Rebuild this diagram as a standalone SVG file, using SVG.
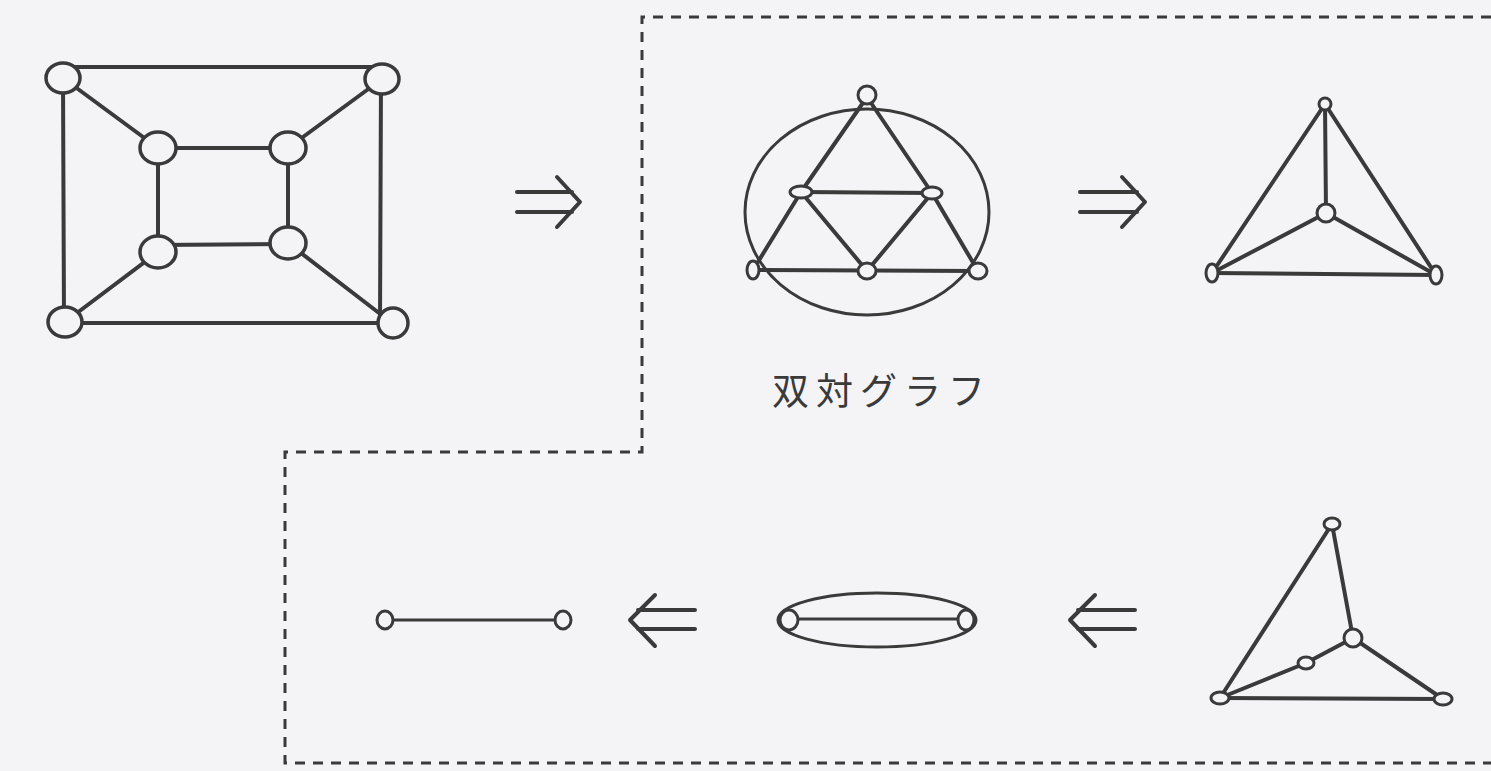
<svg xmlns="http://www.w3.org/2000/svg" width="1491" height="771" viewBox="0 0 1491 771">
<style>
.e{stroke:#3a3a3a;stroke-width:4;fill:none;stroke-linecap:round}
.t{stroke:#3a3a3a;stroke-width:3;fill:none;stroke-linecap:round}
.n{stroke:#3a3a3a;stroke-width:3.5;fill:#f4f3f5}
.s{stroke:#3a3a3a;stroke-width:3;fill:#f4f3f5}
.d{stroke:#3a3a3a;stroke-width:3;fill:none;stroke-dasharray:10 8}
.a{stroke:#3a3a3a;stroke-width:4;fill:none;stroke-linecap:round;stroke-linejoin:round}
.lbl{font-family:"Noto Sans CJK JP","Noto Sans CJK SC",sans-serif;font-size:37px;fill:#3a3a3a;letter-spacing:7px}
</style>
<rect width="1491" height="771" fill="#f4f3f5"/>
<g id="connectors">
<path class="d" d="M1491 17 H642 V452 H285 V763 H1491"/>
<!-- graph 1 -->
<line class="e" x1="63" y1="67" x2="382" y2="67"/>
<line class="e" x1="63" y1="78" x2="64" y2="322"/>
<line class="e" x1="381" y1="79" x2="380" y2="323"/>
<line class="e" x1="65" y1="323" x2="392" y2="323"/>
<line class="e" x1="63" y1="78" x2="158" y2="148"/>
<line class="e" x1="382" y1="79" x2="288" y2="148"/>
<line class="e" x1="65" y1="322" x2="158" y2="252"/>
<line class="e" x1="392" y1="323" x2="288" y2="243"/>
<line class="e" x1="158" y1="148" x2="288" y2="148"/>
<line class="e" x1="158" y1="245" x2="288" y2="244"/>
<line class="e" x1="158" y1="148" x2="158" y2="252"/>
<line class="e" x1="288" y1="148" x2="288" y2="243"/>
<!-- graph 2 -->
<ellipse class="t" cx="867" cy="212" rx="122" ry="103"/>
<line class="e" x1="867" y1="97" x2="801" y2="192"/>
<line class="e" x1="867" y1="97" x2="932" y2="193"/>
<line class="e" x1="801" y1="192" x2="932" y2="193"/>
<line class="e" x1="801" y1="192" x2="753" y2="270"/>
<line class="e" x1="801" y1="192" x2="867" y2="271"/>
<line class="e" x1="932" y1="193" x2="867" y2="271"/>
<line class="e" x1="932" y1="193" x2="978" y2="271"/>
<line class="e" x1="753" y1="270" x2="978" y2="271"/>
<!-- graph 3 -->
<line class="e" x1="1325" y1="104" x2="1212" y2="273"/>
<line class="e" x1="1325" y1="104" x2="1436" y2="275"/>
<line class="e" x1="1325" y1="104" x2="1326" y2="213"/>
<line class="e" x1="1326" y1="213" x2="1212" y2="273"/>
<line class="e" x1="1326" y1="213" x2="1436" y2="275"/>
<line class="e" x1="1212" y1="273" x2="1436" y2="275"/>
<!-- graph 5 -->
<line class="e" x1="1332" y1="524" x2="1220" y2="698"/>
<line class="e" x1="1332" y1="524" x2="1353" y2="638"/>
<line class="e" x1="1353" y1="638" x2="1306" y2="663"/>
<line class="e" x1="1306" y1="663" x2="1220" y2="698"/>
<line class="e" x1="1353" y1="638" x2="1443" y2="699"/>
<line class="e" x1="1220" y1="698" x2="1443" y2="699"/>
<!-- graph 4 -->
<ellipse class="t" cx="877" cy="620" rx="99" ry="27"/>
<line class="t" x1="789" y1="619" x2="966" y2="619"/>
<!-- graph 6 -->
<line class="t" x1="385" y1="620" x2="562" y2="620"/>
<!-- arrows -->
<path class="a" d="M517 192 H572 M517 212 H572 M557 177 L580 202 L557 227"/>
<path class="a" d="M1080 192 H1137 M1080 212 H1137 M1122 177 L1145 202 L1122 227"/>
<path class="a" d="M695 610 H638 M695 629 H638 M655 595 L630 620 L655 646"/>
<path class="a" d="M1135 610 H1078 M1135 629 H1078 M1095 595 L1070 620 L1095 646"/>
</g>
<g id="g1-n1"><ellipse class="n" cx="63" cy="78" rx="17" ry="15"/></g>
<g id="g1-n2"><ellipse class="n" cx="382" cy="79" rx="17" ry="15"/></g>
<g id="g1-n3"><ellipse class="n" cx="158" cy="148" rx="18" ry="16"/></g>
<g id="g1-n4"><ellipse class="n" cx="288" cy="148" rx="18" ry="16"/></g>
<g id="g1-n5"><ellipse class="n" cx="158" cy="252" rx="18" ry="16"/></g>
<g id="g1-n6"><ellipse class="n" cx="288" cy="243" rx="18" ry="16"/></g>
<g id="g1-n7"><ellipse class="n" cx="65" cy="322" rx="17" ry="15"/></g>
<g id="g1-n8"><ellipse class="n" cx="393" cy="323" rx="15" ry="15"/></g>
<g id="g2-n1"><ellipse class="s" cx="867" cy="95" rx="9" ry="9"/></g>
<g id="g2-n2"><ellipse class="s" cx="801" cy="192" rx="11" ry="6"/></g>
<g id="g2-n3"><ellipse class="s" cx="932" cy="193" rx="10" ry="6"/></g>
<g id="g2-n4"><ellipse class="s" cx="753" cy="270" rx="6" ry="9"/></g>
<g id="g2-n5"><ellipse class="s" cx="867" cy="271" rx="9" ry="8"/></g>
<g id="g2-n6"><ellipse class="s" cx="978" cy="271" rx="9" ry="8"/></g>
<g id="g3-n1"><ellipse class="s" cx="1325" cy="104" rx="6" ry="6"/></g>
<g id="g3-n2"><ellipse class="s" cx="1326" cy="213" rx="9" ry="9"/></g>
<g id="g3-n3"><ellipse class="s" cx="1212" cy="273" rx="6" ry="9"/></g>
<g id="g3-n4"><ellipse class="s" cx="1436" cy="275" rx="6" ry="9"/></g>
<g id="g5-n1"><ellipse class="s" cx="1332" cy="524" rx="8" ry="6"/></g>
<g id="g5-n2"><ellipse class="s" cx="1353" cy="638" rx="9" ry="9"/></g>
<g id="g5-n3"><ellipse class="s" cx="1306" cy="663" rx="8" ry="6"/></g>
<g id="g5-n4"><ellipse class="s" cx="1220" cy="698" rx="9" ry="6"/></g>
<g id="g5-n5"><ellipse class="s" cx="1443" cy="699" rx="9" ry="6"/></g>
<g id="g4-n1"><ellipse class="s" cx="789" cy="620" rx="9" ry="10"/></g>
<g id="g4-n2"><ellipse class="s" cx="966" cy="620" rx="8" ry="10"/></g>
<g id="g6-n1"><ellipse class="s" cx="385" cy="620" rx="8" ry="9"/></g>
<g id="g6-n2"><ellipse class="s" cx="563" cy="620" rx="8" ry="9"/></g>
<g id="label"><text class="lbl" x="772" y="405">双対グラフ</text></g>
</svg>
